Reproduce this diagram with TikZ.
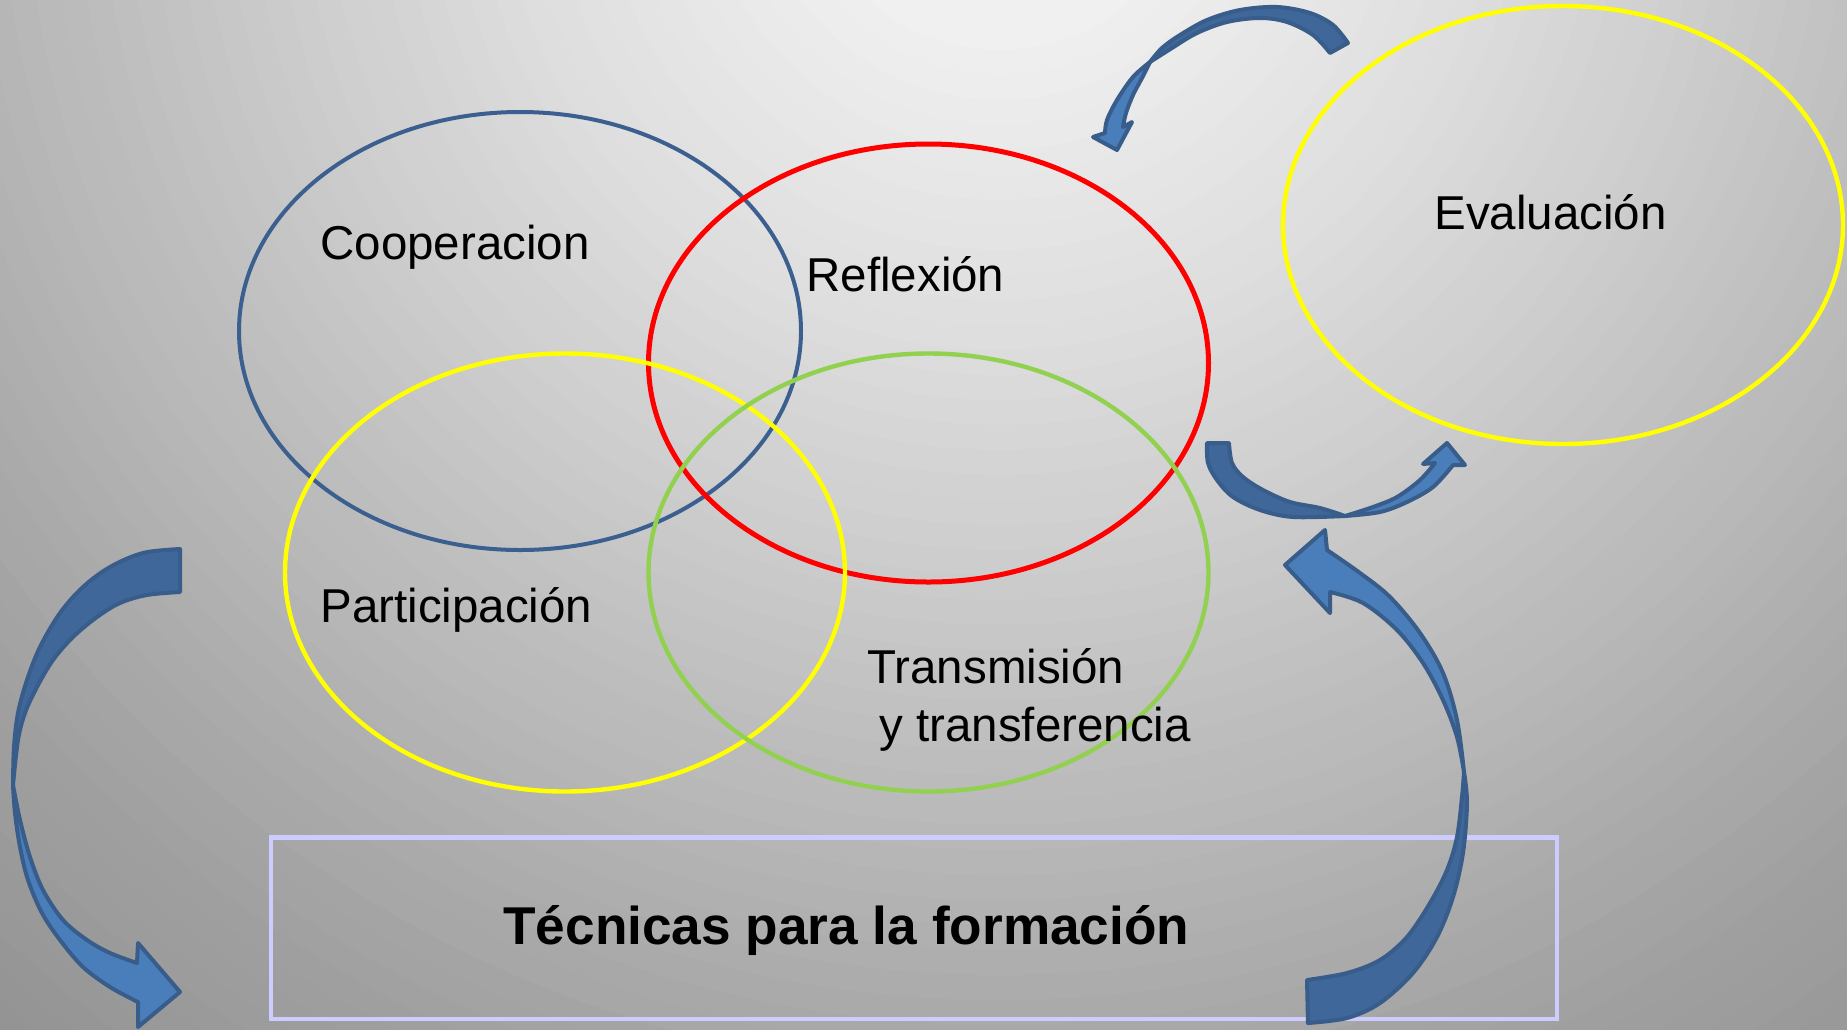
\documentclass[tikz,border=0pt]{standalone}
\usepackage{fontspec}
\setmainfont{Liberation Sans}
\definecolor{cblue}{HTML}{3B6090}
\definecolor{cred}{HTML}{FF0000}
\definecolor{cyellow}{HTML}{FFFF00}
\definecolor{cgreen}{HTML}{92D050}
\definecolor{boxline}{HTML}{CCCCFF}
\definecolor{arrdark}{HTML}{3F679A}
\definecolor{arrlight}{HTML}{4A7EBB}
\definecolor{arrline}{HTML}{385D8A}
\tikzset{
  ring/.style={line width=2.2pt},
  lbl/.style={anchor=base west, inner sep=0pt, font=\fontsize{23.75pt}{28pt}\selectfont},
  titlelbl/.style={anchor=base west, inner sep=0pt, font=\fontsize{26.6pt}{31pt}\selectfont\bfseries},
  arrowdark/.style={fill=arrdark, draw=arrline, line width=2pt, line join=round},
  arrowlight/.style={fill=arrlight, draw=arrline, line width=2pt, line join=round},
  sm/.style={smooth, tension=0.55}
}
\begin{document}
\begin{tikzpicture}[x=0.5pt,y=-0.5pt]
\useasboundingbox (0,0) rectangle (1847,1029);
\begin{scope}
  \clip (0,0) rectangle (1847,1029);
  \foreach \k in {64,63,...,1} {
    \pgfmathsetmacro\d{\k*25}
    \pgfmathsetmacro\g{\d<200 ? 0.965-0.025*\d/200 : (\d<500 ? 0.94-0.07*(\d-200)/300 : (\d<1000 ? 0.87-0.15*(\d-500)/500 : (\d<1300 ? 0.72-0.09*(\d-1000)/300 : 0.63-0.06*(\d-1300)/300)))}
    \definecolor{bgtmp}{gray}{\g}
    \pgfmathsetmacro\rr{\d*0.5}
    \fill[bgtmp] (1000,-150) circle [radius=\rr pt];
  }
\end{scope}

% box
\draw[draw=boxline, line width=2.3pt] (271,837.5) rectangle (1557,1019);

% ellipses
\draw[ring, draw=cblue, line width=2pt] (520,331) ellipse [x radius=140.5pt, y radius=109.5pt];
\draw[ring, draw=cred, line width=2.5pt] (928.5,363) ellipse [x radius=140pt, y radius=109.5pt];
\draw[ring, draw=cyellow] (565,572.5) ellipse [x radius=140pt, y radius=109.5pt];
\draw[ring, draw=cgreen] (928.5,572.5) ellipse [x radius=140pt, y radius=109.5pt];
\draw[ring, draw=cyellow] (1563,225) ellipse [x radius=140pt, y radius=109.5pt];

% labels
\node[lbl] (coop) at (320,259) {Cooperacion};
\node[lbl] (refl) at (806,291) {Reflexión};
\node[lbl] (eval) at (1434,229) {Evaluación};
\node[lbl] (part) at (320,622) {Participación};
\node[lbl] (trans) at (867,683) {Transmisión};
\node[lbl] (transf) at (879,741) {y transferencia};
\node[titlelbl] (tec) at (503,944) {Técnicas para la formación};

% left arrow
\draw[arrowdark] plot[sm] coordinates {(180,549) (143,553) (110,567) (83,587) (60,613) (40,647) (27,680) (18,713) (14,747) (13,785)}
  -- plot[sm] coordinates {(13,785) (18,740) (25,713) (37,687) (53,660) (73,637) (97,617) (120,603) (147,595) (180,592)} -- cycle;
\draw[arrowlight] plot[sm] coordinates {(13,785) (15,813) (20,847) (28,880) (42,913) (60,940) (83,967) (110,987) (138,1002)}
  -- (138,1027) -- (180,992) -- (138,943) -- (137,963)
  -- plot[sm] coordinates {(137,963) (110,953) (87,940) (63,920) (43,890) (30,857) (20,820) (13,785)} -- cycle;

% right big arrow
\draw[arrowdark] plot[sm] coordinates {(1307,980) (1347,973) (1380,960) (1407,937) (1430,903) (1447,870) (1457,837) (1462,797) (1464,772)}
  -- plot[sm] coordinates {(1464,772) (1467,803) (1463,853) (1453,897) (1437,937) (1413,973) (1380,1003) (1347,1018) (1308,1023)} -- cycle;
\draw[arrowlight] plot[sm] coordinates {(1464,772) (1457,720) (1443,673) (1420,633) (1390,597) (1360,573) (1327,550)}
  -- (1325,530) -- (1285,565) -- (1330,613) -- (1330,592)
  -- plot[sm] coordinates {(1330,592) (1363,603) (1397,630) (1423,663) (1443,700) (1457,737) (1464,772)} -- cycle;

% top arrow
\draw[arrowdark] plot[sm] coordinates {(1348,43) (1333,25) (1310,13) (1277,7) (1240,10) (1207,20) (1180,35) (1162,48) (1150,62)}
  -- plot[sm] coordinates {(1150,62) (1172,48) (1197,33) (1227,22) (1260,18) (1287,22) (1313,35) (1330,53)} -- cycle;
\draw[arrowlight] plot[sm] coordinates {(1150,62) (1133,77) (1117,100) (1107,120) (1105,133)}
  -- (1093,137) -- (1117,150) -- (1132,122) -- (1123,127)
  -- plot[sm] coordinates {(1123,127) (1126,113) (1133,95) (1142,78) (1150,62)} -- cycle;

% middle arrow
\draw[arrowdark] plot[sm] coordinates {(1207,443) (1208,463) (1217,480) (1233,497) (1260,510) (1293,517) (1345,516)}
  -- plot[sm] coordinates {(1345,516) (1320,508) (1290,502) (1263,490) (1243,477) (1232,463) (1229,443)} -- cycle;
\draw[arrowlight] plot[sm] coordinates {(1345,516) (1380,512) (1407,502) (1433,487) (1453,465)}
  -- (1465,465) -- (1447,443) -- (1423,464) -- (1435,463)
  -- plot[sm] coordinates {(1435,463) (1420,480) (1397,497) (1373,507) (1345,516)} -- cycle;
\end{tikzpicture}
\end{document}
